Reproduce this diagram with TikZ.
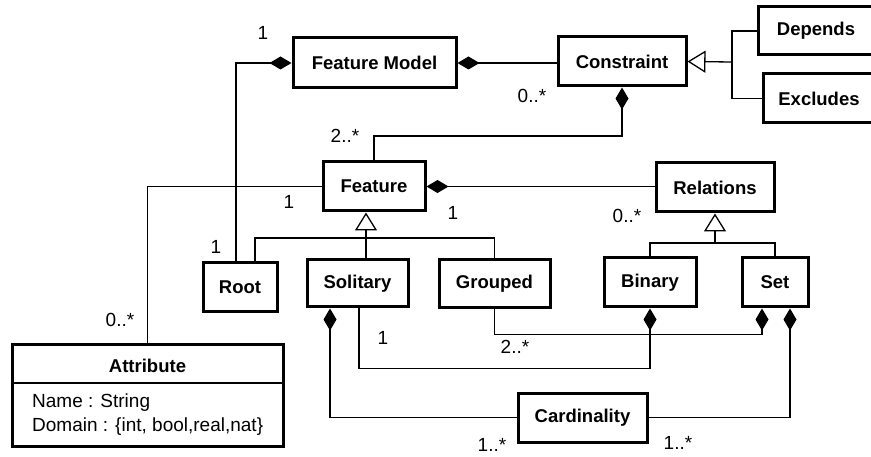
\documentclass[tikz,border=0pt]{standalone}
\usepackage{fontspec}
\setmainfont{Liberation Sans}
\usetikzlibrary{arrows.meta, positioning}
\tikzset{
  boldtext/.style = {font=\fontsize{18.5}{22}\selectfont\bfseries},
  cls/.style = {draw, line width=3pt, inner sep=0pt, boldtext},
  mult/.style = {inner sep=0pt, font=\fontsize{19}{22}\selectfont},
  conn/.style = {line width=1.3pt},
  comp/.style = {conn, -{Diamond[length=22pt, width=13pt]}},
  compinv/.style = {conn, {Diamond[length=22pt, width=13pt]}-},
  gen/.style = {conn, -{Triangle[open, fill=white, length=18pt, width=22pt]}}
}

\begin{document}
\begin{tikzpicture}[x=1pt, y=-1pt]
	\useasboundingbox (0,0) rectangle (871,457);

	% classes
	\node[cls, minimum width=163pt, minimum height=50pt] (fm) at (374.5,63) {Feature Model};
	\node[cls, minimum width=128pt, minimum height=49pt] (con) at (622,61.5) {Constraint};
	\node[cls, minimum width=116pt, minimum height=48pt] (dep) at (816,31) {Depends};
	\node[cls, minimum width=112pt, minimum height=49pt] (exc) at (819,98.5) {Excludes};
	\node[cls, minimum width=102pt, minimum height=49pt] (feat) at (374,186.5) {Feature};
	\node[cls, minimum width=118pt, minimum height=49pt] (rel) at (715,187.5) {Relations};
	\node[cls, minimum width=74pt, minimum height=49pt] (root) at (240,287.5) {Root};
	\node[cls, minimum width=101pt, minimum height=47pt] (sol) at (357.5,283.5) {Solitary};
	\node[cls, minimum width=111pt, minimum height=48pt] (grp) at (494.5,284) {Grouped};
	\node[cls, minimum width=92pt, minimum height=49pt] (bin) at (650,282.5) {Binary};
	\node[cls, minimum width=66pt, minimum height=49pt] (set) at (775,282.5) {Set};
	\node[cls, minimum width=129pt, minimum height=49pt] (card) at (582.5,417.5) {Cardinality};

	% attribute class with its compartment
	\node[cls, minimum width=271pt, minimum height=101pt] (attr) at (147.5,395.5) {};
	\node[inner sep=0pt, boldtext] (attrtitle) at (147.5,366) {Attribute};
	\draw[conn] (attr.west |- 0,383) -- (attr.east |- 0,383);
	\node[mult, anchor=west] (attrname) at (32,403) {Name : String};
	\node[mult, anchor=west] (attrdom) at (32,427) {Domain : \{int, bool,real,nat\}};

	% junctions
	\coordinate (cj) at (732,62);
	\coordinate (fj) at (366,238);
	\coordinate (rj) at (715,243);

	% compositions
	\draw[comp] ([xshift=-4pt]root.north) |- (fm.west);
	\draw[compinv] (fm.east) -- (fm.east -| con.west);
	\draw[compinv] (con.south) -- (con.south |- 0,136) -| (feat.north);
	\draw[compinv] (feat.east) -- (feat.east -| rel.west);
	\draw[comp] (grp.south) -- ++(0,25) -| ([xshift=-13pt]set.south);
	\draw[compinv] (bin.south) -- ++(0,60) -| ([xshift=1.5pt]sol.south);
	\draw[compinv] ([xshift=-27.5pt]sol.south) |- (card.west);
	\draw[comp] (card.east) -| ([xshift=15pt]set.south);
	\draw[conn] (feat.west) -| (attr.north);

	% generalisations
	\draw[gen] (cj) -- (con.east);
	\draw[conn] (dep.west) -| (cj);
	\draw[conn] (exc.west) -| (cj);
	\draw[gen] (fj) -- (fj |- feat.south);
	\draw[conn] (fj |- sol.north) -- (fj);
	\draw[conn] ([xshift=15pt]root.north) |- (fj) -| (grp.north);
	\draw[gen] (rj) -- (rel.south);
	\draw[conn] (bin.north) |- (rj) -| (set.north);

	% multiplicities
	\node[mult] (m1) at (263,33) {1};
	\node[mult] (m2) at (532,96) {0..*};
	\node[mult] (m3) at (345,136) {2..*};
	\node[mult] (m4) at (289,202) {1};
	\node[mult] (m5) at (216,247) {1};
	\node[mult] (m6) at (453,213) {1};
	\node[mult] (m7) at (627,216) {0..*};
	\node[mult] (m8) at (120,320) {0..*};
	\node[mult] (m9) at (383,338) {1};
	\node[mult] (m10) at (515,347) {2..*};
	\node[mult] (m11) at (492,445) {1..*};
	\node[mult] (m12) at (678,443) {1..*};
\end{tikzpicture}
\end{document}
